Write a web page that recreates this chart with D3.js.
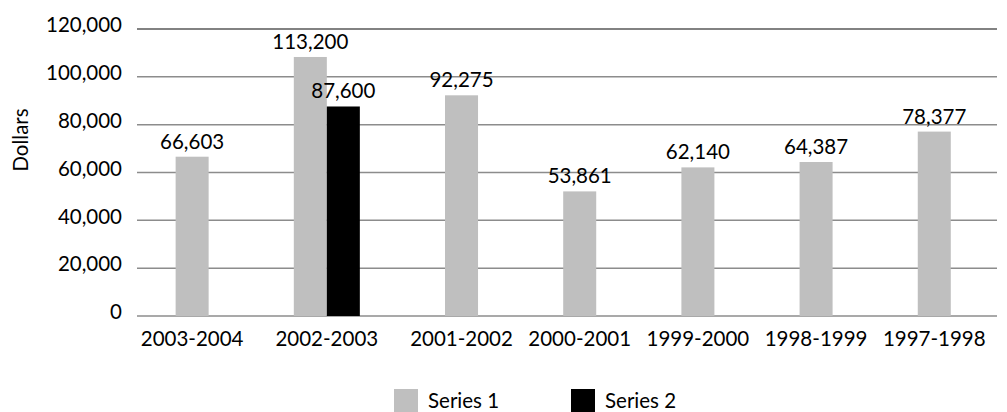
<!DOCTYPE html>
<html>
    <head>
        <script type="text/javascript" src="https://cdn.jsdelivr.net/npm/d3@7"></script>
        <style>
            body { margin: 0; background: #fff; }
            text { font-family: Lato, "Noto Sans", sans-serif; fill: #000; }
        </style>
    </head>

    <body>
        <svg width="1007" height="412"></svg>

        <script type="text/javascript">
            // chart data
            var categories = ["2003-2004", "2002-2003", "2001-2002", "2000-2001", "1999-2000", "1998-1999", "1997-1998"];
            var seriesNames = ["Series 1", "Series 2"];
            var series1 = [66603, 108300, 92275, 52100, 62140, 64387, 77100];
            var series2 = [null, 87600, null, null, null, null, null];
            // the printed labels (they don't all agree with the bar heights)
            var series1Labels = ["66,603", "113,200", "92,275", "53,861", "62,140", "64,387", "78,377"];
            var series2Labels = [null, "87,600", null, null, null, null, null];
            var yTicks = [0, 20000, 40000, 60000, 80000, 100000, 120000];
            var colors = ["#bfbfbf", "#000000"];

            var svg = d3.select("svg");
            var plotL = 137, plotR = 997, plotT = 29, plotB = 316;
            var fs = 20.5;

            var y = d3.scaleLinear().domain([0, 120000]).range([plotB, plotT]);

            // bars are packed: only existing values take a slot, gaps only between categories
            var gapU = 2.58, padL = 1.17, padR = 1.4;
            var bars = [], groups = [];
            var pos = padL;
            categories.forEach(function(c, i) {
                var start = pos;
                [series1, series2].forEach(function(s, j) {
                    if (s[i] != null) {
                        bars.push({cat: c, series: j, value: s[i], u: pos,
                                   label: j == 0 ? series1Labels[i] : series2Labels[i]});
                        pos += 1;
                    }
                });
                groups.push({cat: c, mid: (start + pos) / 2});
                if (i < categories.length - 1) pos += gapU;
            });
            var total = pos + padR;
            var x = d3.scaleLinear().domain([0, total]).range([plotL, plotR]);
            var bw = x(1) - x(0);

            // gridlines
            svg.append("g").selectAll("line")
                .data(yTicks)
                .enter().append("line")
                .attr("x1", plotL).attr("x2", plotR)
                .attr("y1", function(d) { return y(d); })
                .attr("y2", function(d) { return y(d); })
                .style("stroke", function(d) { return d == 120000 ? "#595959" : "#8c8c8c"; })
                .style("stroke-width", 1.5);

            // y tick labels
            svg.append("g").selectAll("text")
                .data(yTicks)
                .enter().append("text")
                .attr("x", 122)
                .attr("y", function(d) { return y(d) - 4; })
                .attr("dy", "0.35em")
                .attr("text-anchor", "end")
                .style("font-size", fs + "px")
                .text(function(d) { return d3.format(",")(d); });

            // y axis title
            svg.append("text")
                .attr("transform", "translate(28,140) rotate(-90)")
                .attr("text-anchor", "middle")
                .style("font-size", fs + "px")
                .text("Dollars");

            // bars
            svg.append("g").selectAll("rect")
                .data(bars)
                .enter().append("rect")
                .attr("x", function(d) { return x(d.u); })
                .attr("width", bw)
                .attr("y", function(d) { return y(d.value); })
                .attr("height", function(d) { return y(0) - y(d.value); })
                .style("fill", function(d) { return colors[d.series]; });

            // value labels
            svg.append("g").selectAll("text")
                .data(bars)
                .enter().append("text")
                .attr("x", function(d) { return x(d.u + 0.5); })
                .attr("y", function(d) { return y(d.value) - 8; })
                .attr("text-anchor", "middle")
                .style("font-size", fs + "px")
                .text(function(d) { return d.label; });

            // category labels
            svg.append("g").selectAll("text")
                .data(groups)
                .enter().append("text")
                .attr("x", function(d) { return x(d.mid); })
                .attr("y", 346)
                .attr("text-anchor", "middle")
                .style("font-size", fs + "px")
                .text(function(d) { return d.cat; });

            // legend
            var legX = [394, 571];
            var leg = svg.append("g").selectAll("g")
                .data(seriesNames)
                .enter().append("g")
                .attr("transform", function(d, i) { return "translate(" + legX[i] + ",389)"; });
            leg.append("rect")
                .attr("width", 24).attr("height", 23)
                .style("fill", function(d, i) { return colors[i]; });
            leg.append("text")
                .attr("x", 34).attr("y", 19)
                .style("font-size", fs + "px")
                .text(function(d) { return d; });
        </script>
    </body>
</html>
